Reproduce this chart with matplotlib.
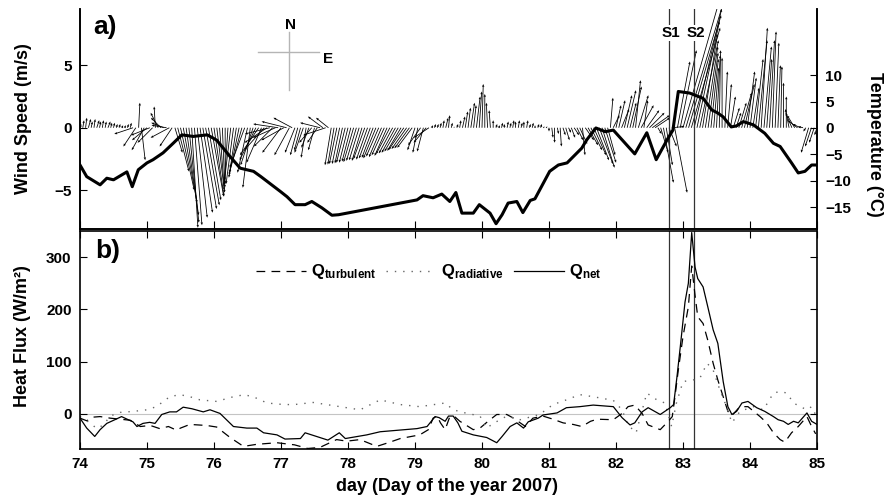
import numpy as np
import matplotlib.pyplot as plt

plt.rcParams['font.family'] = ['Liberation Sans', 'DejaVu Sans']
plt.rcParams['font.weight'] = 'bold'
plt.rcParams['mathtext.fontset'] = 'custom'
plt.rcParams['mathtext.rm'] = 'Liberation Sans:bold'
plt.rcParams['mathtext.it'] = 'Liberation Sans:bold'
plt.rcParams['mathtext.bf'] = 'Liberation Sans:bold'

# hourly wind components (m/s), day 74.0 .. 85.0
wind_u = [
    # day 74
    0.1, 0.1, 0.1, 0.2, 0.1, 0.1, 0.2, 0.1, 0.1, 0.1, 0.2, 0.1,
    0.1, 0.1, 0.1, 0.1, 0.1, 0.1, 0.1, -1.5, -1.0, 0.1, 0.3, -1.0,
    # day 75
    -1.2, -1.5, -1.2, -0.1, -0.6, -0.8, -1.0, -1.2, -1.5, -1.0, 0.6, 0.9,
    1.1, 1.1, 1.0, 0.8, 0.5, 0.6, 0.8, 1.0, 1.1, 1.1, 1.0, 1.0,
    # day 76
    0.8, 0.6, 0.4, 0.2, 0.0, -0.3, -0.5, -0.6, -0.6, -0.8, -1.0, -1.2,
    -0.8, -0.6, -1.0, -1.3, -1.5, -1.2, -1.6, -1.8, -2.0, -1.5, -1.8, -2.0,
    # day 77
    -1.5, -1.8, -2.0, -1.2, -1.5, -0.8, -0.6, -0.5, -0.7, -0.4, -0.6, -1.0,
    -0.5, -0.8, -1.6, -1.2, -1.8, -1.0, -0.5, -0.5, -0.6, -0.6, -0.6, -0.7,
    # day 78
    -0.7, -0.7, -0.8, -0.8, -0.8, -0.8, -0.9, -0.9, -0.9, -0.9, -1.0, -1.0,
    -1.0, -1.0, -1.0, -1.1, -1.1, -1.1, -1.1, -1.1, -1.2, -1.2, -1.2, -1.2,
    # day 79
    -0.6, -0.4, -1.0, -0.5, -1.0, -1.2, 0.1, 0.1, 0.1, 0.1, 0.1, 0.2,
    0.1, 0.1, 0.0, 0.1, 0.1, 0.2, 0.2, 0.2, 0.3, 0.2, 0.3, 0.2,
    # day 80
    0.1, 0.0, -0.1, -0.1, 0.0, 0.1, 0.1, 0.1, 0.0, 0.1, 0.1, 0.1,
    0.0, 0.1, 0.1, 0.0, 0.1, 0.1, 0.1, 0.0, 0.1, 0.1, 0.1, 0.1,
    # day 81
    0.0, 0.1, 0.0, 0.1, 0.1, 0.2, 0.3, 0.2, 0.3, 0.4, 0.5, 0.6,
    0.2, 0.7, 0.8, 0.9, 1.0, 1.0, 1.1, 1.0, 0.9, 0.6, 0.2, 0.5,
    # day 82
    0.4, 0.5, 0.6, 0.6, 0.7, 0.5, 0.7, 0.4, 0.8, 1.0, 0.3, 1.0,
    1.2, 1.4, 1.2, 0.3, 0.6, 0.8, 0.5, 0.6, 1.0, 1.0, 1.0, 1.3,
    # day 83
    3.0, 3.0, 2.6, 2.3, 2.2, 1.8, 1.5, 1.2, 1.0, 0.8, 0.6, 0.4,
    0.3, 0.1, 0.0, 0.2, 0.3, 0.4, 0.5, 0.4, 0.6, 0.8, 0.8, 0.6,
    # day 84 (+ 85.0)
    0.5, 0.5, 0.6, 0.7, 0.5, 0.6, 0.4, 0.4, 0.3, 0.3, 0.2, 0.1,
    0.0, 0.0, -0.3, -0.5, -0.6, -0.8, -0.6, -0.4, -0.2, -0.6, -0.5, -0.4,
    -0.2,
]
wind_v = [
    # day 74
    0.3, 0.6, 0.8, 0.7, 0.5, 0.7, 0.6, 0.5, 0.6, 0.5, 0.5, 0.4,
    0.4, 0.3, 0.3, 0.2, 0.2, 0.3, 0.4, -0.5, -1.5, 2.0, -2.6, -1.8,
    # day 75
    -1.0, -0.6, -1.2, 1.7, 1.2, 0.8, 0.4, 0.2, -0.8, -1.5, -2.0, -3.5,
    -5.0, -6.0, -7.0, -7.6, -8.0, -7.8, -7.2, -6.8, -6.5, -6.2, -5.8, -5.5,
    # day 76
    -5.5, -5.0, -5.2, -4.8, -4.5, -4.6, -4.2, -4.5, -4.0, -3.8, -3.6, -3.2,
    -3.6, -4.8, -3.0, -2.6, -2.2, -2.8, -1.8, -1.2, -0.5, -1.5, -0.8, 0.3,
    # day 77
    -2.0, -1.0, 0.5, -2.2, 0.8, -2.0, -2.2, -1.8, -2.0, -2.4, -1.6, -1.2,
    -1.8, -1.2, 0.4, 0.9, -0.6, 0.8, -3.0, -2.95, -2.9, -2.9, -2.85, -2.8,
    # day 78
    -2.8, -2.7, -2.75, -2.65, -2.6, -2.65, -2.5, -2.55, -2.45, -2.4, -2.45, -2.3,
    -2.35, -2.2, -2.25, -2.1, -2.05, -2.0, -1.9, -1.85, -1.75, -1.7, -1.65, -1.6,
    # day 79
    -1.8, -2.0, -1.4, -1.9, -1.2, -0.8, 0.2, 0.3, 0.3, 0.4, 0.6, 0.8,
    1.0, 0.4, 0.1, 0.3, 0.6, 0.9, 1.3, 1.6, 2.0, 1.8, 2.5, 2.9,
    # day 80
    3.5, 2.7, 2.0, 1.4, 0.6, 0.3, 0.2, 0.4, 0.3, 0.5, 0.4, 0.6,
    0.5, 0.6, 0.4, 0.5, 0.6, 0.3, 0.4, 0.2, 0.3, 0.3, 0.1, 0.1,
    # day 81
    -0.3, -0.8, -1.2, -0.5, -1.5, -0.6, -1.0, -0.4, -0.8, -0.6, -1.0, -1.3,
    -2.2, -1.0, -1.4, -1.8, -2.2, -2.6, -2.9, -3.2, -2.8, -2.2, 2.4, 1.0,
    # day 82
    1.8, 2.2, 1.5, 2.6, 3.0, 2.0, 3.3, 3.8, 2.6, 1.8, 2.2, 1.4,
    1.2, 1.0, 0.8, -0.5, -2.0, -4.4, -3.0, -1.5, 0.1, -5.2, 5.3, 6.2,
    # day 83
    10.5, 10.0, 9.0, 8.0, 9.5, 8.5, 7.0, 7.5, 6.5, 6.0, 5.5, 4.8,
    5.8, 6.2, 5.6, 4.5, 3.5, 2.5, 1.6, 1.2, 2.0, 2.8, 3.5, 4.5,
    # day 84 (+ 85.0)
    4.0, 3.2, 5.5, 7.0, 8.0, 6.5, 5.5, 7.0, 7.7, 6.8, 5.0, 4.9,
    3.6, 2.5, 1.5, 1.2, 1.0, 0.6, 0.3, 0.1, -0.3, -2.0, -1.5, -1.2,
    -0.6,
]
wind_day = 74 + np.arange(len(wind_u)) / 24.0

# air temperature (deg C)
temp_day = [74.0, 74.1, 74.3, 74.4, 74.5, 74.7, 74.78, 74.87, 75.0, 75.09,
            75.24, 75.39, 75.52, 75.69, 75.9, 76.04, 76.24, 76.39, 76.59, 76.7,
            76.99, 77.09, 77.21, 77.36, 77.46, 77.61, 77.76, 77.86, 79.03, 79.12,
            79.27, 79.4, 79.52, 79.61, 79.7, 79.87, 79.96, 80.12, 80.21, 80.3,
            80.39, 80.52, 80.61, 80.72, 80.79, 81.01, 81.14, 81.27, 81.49, 81.56,
            81.7, 81.84, 81.96, 82.28, 82.46, 82.6, 82.76, 82.85, 82.93, 83.1,
            83.3, 83.43, 83.51, 83.6, 83.72, 83.8, 83.9, 84.05, 84.22, 84.35,
            84.45, 84.62, 84.72, 84.82, 84.92, 85.0]
temp = [-7.0, -9.2, -10.75, -9.5, -9.8, -8.3, -11.1, -7.9, -6.6, -6.0,
        -4.7, -2.9, -1.3, -1.6, -1.3, -2.3, -5.4, -7.6, -8.2, -9.2,
        -12.0, -13.0, -14.5, -14.5, -13.9, -15.1, -16.5, -16.4, -13.6, -12.8,
        -13.2, -12.5, -13.9, -12.2, -16.1, -16.1, -14.5, -16.1, -18.1, -16.4,
        -14.2, -13.9, -16.0, -13.7, -13.4, -8.2, -7.0, -6.6, -3.8, -2.3,
        0.0, -0.7, -0.4, -4.9, -0.9, -6.0, -2.3, -0.4, 6.9, 6.6,
        5.6, 3.4, 2.9, 2.1, 0.2, 0.4, 1.2, 0.6, -1.0, -2.9,
        -3.5, -6.6, -8.5, -8.2, -7.0, -7.0]

# heat fluxes (W/m2)
qnet_day = [74.0, 74.1, 74.22, 74.3, 74.4, 74.52, 74.62, 74.72, 74.79, 74.85,
            74.94, 75.04, 75.12, 75.22, 75.34, 75.44, 75.54, 75.67, 75.84, 75.94,
            76.09, 76.29, 76.49, 76.64, 76.74, 76.94, 77.06, 77.29, 77.36, 77.7,
            77.87, 77.96, 78.28, 78.48, 79.03, 79.18, 79.3, 79.36, 79.45, 79.5,
            79.57, 79.64, 79.7, 79.87, 80.07, 80.22, 80.3, 80.42, 80.52, 80.62,
            80.69, 80.84, 80.91, 81.12, 81.26, 81.46, 81.66, 81.96, 82.09, 82.21,
            82.28, 82.39, 82.48, 82.66, 82.81, 82.86, 82.91, 82.96, 83.03, 83.08,
            83.13, 83.18, 83.22, 83.3, 83.37, 83.45, 83.52, 83.6, 83.67, 83.73,
            83.8, 83.88, 83.97, 84.1, 84.22, 84.35, 84.42, 84.5, 84.57, 84.65,
            84.72, 84.85, 84.92, 85.0]
qnet = [-8, -27, -43, -30, -18, -11, -5, -11, -15, -24,
        -18, -16, -18, -1, 4, 4, 13, 10, 4, 8,
        1, -24, -27, -27, -36, -40, -48, -47, -36, -50,
        -36, -47, -40, -34, -28, -24, -5, -7, -14, -4,
        -4, -17, -33, -40, -45, -55, -43, -24, -17, -27,
        -15, -8, -2, 2, 12, 14, 17, 14, -7, -21,
        -17, 4, 12, -1, 12, 18, 71, 129, 214, 250,
        347, 281, 259, 243, 205, 161, 135, 62, 14, -1,
        5, 21, 24, 12, 5, -5, -11, -14, -20, -14,
        -17, 2, -14, -20]

qturb_day = [74.0, 74.1, 74.2, 74.3, 74.45, 74.6, 74.75, 74.9, 75.05, 75.19,
             75.32, 75.44, 75.5, 75.64, 75.89, 76.04, 76.24, 76.44, 76.64, 76.94,
             77.13, 77.2, 77.4, 77.58, 77.73, 77.83, 77.98, 78.18, 78.43, 78.6,
             78.78, 79.07, 79.2, 79.27, 79.33, 79.38, 79.45, 79.52, 79.6, 79.67,
             79.87, 79.97, 80.09, 80.22, 80.37, 80.47, 80.57, 80.65, 80.76, 80.91,
             81.06, 81.21, 81.36, 81.49, 81.62, 81.72, 81.96, 82.09, 82.18, 82.28,
             82.39, 82.48, 82.66, 82.78, 82.84, 82.88, 82.93, 83.0, 83.08, 83.13,
             83.18, 83.22, 83.3, 83.37, 83.45, 83.52, 83.6, 83.67, 83.73, 83.85,
             83.97, 84.15, 84.25, 84.35, 84.45, 84.52, 84.62, 84.72, 84.85, 84.92,
             84.98]
qturb = [-8, -13, -6, -5, -8, -10, -12, -24, -22, -28,
         -24, -31, -27, -20, -22, -25, -45, -62, -58, -55,
         -58, -59, -66, -64, -55, -49, -52, -49, -62, -55,
         -47, -40, -30, -8, -4, -17, -30, -5, -6, -14,
         -30, -27, -14, -1, -1, -8, -17, -24, -8, -4,
         -10, -17, -20, -24, -14, -10, -11, 1, 14, 17,
         1, -21, -30, -14, -5, 33, 84, 148, 205, 283,
         227, 186, 173, 141, 97, 65, 33, 5, -3, 14,
         14, -5, -17, -36, -49, -54, -36, -24, -5, -24,
         -38]

qrad_day = [74.0, 74.15, 74.25, 74.35, 74.45, 74.6, 74.8, 75.0, 75.14, 75.34,
            75.49, 75.64, 75.79, 76.04, 76.29, 76.46, 76.64, 76.79, 77.04, 77.2,
            77.48, 77.68, 77.98, 78.18, 78.48, 78.78, 79.07, 79.45, 79.57, 79.75,
            79.97, 80.07, 80.17, 80.37, 80.57, 80.86, 81.06, 81.26, 81.46, 81.66,
            81.96, 82.09, 82.18, 82.3, 82.46, 82.61, 82.73, 82.83, 82.9, 83.0,
            83.15, 83.25, 83.36, 83.45, 83.55, 83.65, 83.73, 83.85, 84.05, 84.2,
            84.35, 84.45, 84.55, 84.65, 84.75, 84.85, 84.92, 85.0]
qrad = [-5, -17, -28, -21, -4, 3, 5, 8, 14, 33,
        37, 33, 27, 24, 33, 37, 30, 21, 18, 18,
        22, 18, 12, 8, 27, 18, 14, 21, 8, 2,
        -4, -27, -18, -4, -11, -1, 18, 27, 37, 33,
        26, 8, -21, -36, 40, 27, 21, -24, 20, 62,
        65, 68, 97, 84, 46, 14, -17, 5, 14, 8,
        40, 43, 40, 21, 14, 8, 14, -7]

s1_day, s2_day = 82.79, 83.16

fig = plt.figure(figsize=(8.84, 4.99), dpi=100)
ax1 = fig.add_axes([0.0905, 0.5411, 0.8337, 0.4409])
ax3 = fig.add_axes([0.0905, 0.1002, 0.8337, 0.4369])

# a) wind sticks
ax1.quiver(wind_day, np.zeros(len(wind_day)), wind_u, wind_v,
           angles='uv', scale_units='y', scale=1, units='width',
           width=0.0011, headwidth=3, headlength=3.5, headaxislength=3.2,
           color='black')
ax1.set_xlim(74, 85)
ax1.set_ylim(-8.1, 9.5)
ax1.set_xticks(range(74, 86))
ax1.set_yticks([-5, 0, 5])
ax1.tick_params(axis='x', direction='in', length=6, labelbottom=False, top=False)
ax1.tick_params(axis='y', direction='in', length=5, labelsize=11, pad=6)
ax1.spines['top'].set_visible(False)
for s in ax1.spines.values():
    s.set_linewidth(1.2)

ax2 = ax1.twinx()
ax2.plot(temp_day, temp, color='black', lw=2.2)
ax2.set_ylim(-19.1, 22.5)
ax2.set_yticks([-15, -10, -5, 0, 5, 10])
ax2.tick_params(axis='y', direction='in', length=5, labelsize=11, pad=6)
ax2.spines['top'].set_visible(False)
for s in ax2.spines.values():
    s.set_linewidth(1.2)

# compass
ax1.plot([0.2415, 0.3243], [0.8045, 0.8045], color='#b5b5b5', lw=1, transform=ax1.transAxes)
ax1.plot([0.2836, 0.2836], [0.632, 0.895], color='#b5b5b5', lw=1, transform=ax1.transAxes)
ax1.text(0.285, 0.925, 'N', transform=ax1.transAxes, ha='center', va='center', fontsize=11)
ax1.text(0.3365, 0.773, 'E', transform=ax1.transAxes, ha='center', va='center', fontsize=11)
ax1.text(0.0176, 0.916, 'a)', transform=ax1.transAxes, ha='left', va='center', fontsize=19)

for d, lab in [(s1_day, 'S1'), (s2_day, 'S2')]:
    ax1.axvline(d, color='#333333', lw=0.9)
    ax3.axvline(d, color='#333333', lw=0.9)
    ax1.text(d + 0.03, 0.891, lab, transform=ax1.get_xaxis_transform(), ha='center',
             va='center', fontsize=11,
             bbox=dict(facecolor='white', edgecolor='none', pad=1.0))

# b) heat flux
ax3.axhline(0, color='#c4c4c4', lw=0.8, zorder=0)
ax3.plot(qturb_day, qturb, color='black', lw=0.9, ls=(0, (7, 5)),
         label=r'$\mathbf{Q_{turbulent}}$')
ax3.plot(qrad_day, qrad, color='#666666', lw=1.0, ls=(0, (1, 5)),
         label=r'$\mathbf{Q_{radiative}}$')
ax3.plot(qnet_day, qnet, color='black', lw=0.9, label=r'$\mathbf{Q_{net}}$')
ax3.set_xlim(74, 85)
ax3.set_ylim(-67, 350)
ax3.set_xticks(range(74, 86))
ax3.set_yticks([0, 100, 200, 300])
ax3.tick_params(direction='in', length=5, top=True, right=True, labelsize=11, pad=6)
for s in ax3.spines.values():
    s.set_linewidth(1.2)
ax3.text(0.02, 0.906, 'b)', transform=ax3.transAxes, ha='left', va='center', fontsize=19)
ax3.legend(loc='center', bbox_to_anchor=(0.473, 0.812), ncol=3, frameon=False,
           handlelength=3.0, handletextpad=0.3, columnspacing=0.6, fontsize=12)

fig.text(0.0271, 0.7615, 'Wind Speed (m/s)', rotation=90, ha='center', va='center', fontsize=13)
fig.text(0.0255, 0.327, 'Heat Flux (W/m²)', rotation=90, ha='center', va='center', fontsize=13)
fig.text(0.9898, 0.7114, 'Temperature (°C)', rotation=270, ha='center', va='center', fontsize=13)
fig.text(0.506, 0.0245, 'day (Day of the year 2007)', ha='center', va='center', fontsize=13)

fig.savefig('out.png', dpi=100)
